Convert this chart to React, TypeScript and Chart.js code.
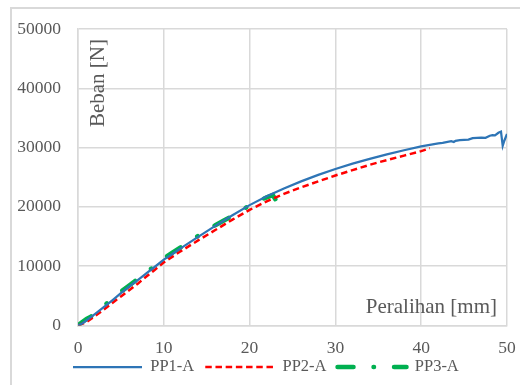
import React, { useEffect, useRef } from "react";
import { Chart, registerables } from "chart.js";

Chart.register(...registerables);

// PP1-A (blue, solid)
const pp1X = [0, 0.5, 1, 2, 3, 4, 5, 6, 7, 8, 9, 10, 11, 12, 14, 16, 18, 20, 22, 24, 26, 28, 30, 32, 34, 36, 38, 40, 41.5, 42, 42.5, 43.5, 43.8, 44, 44.5, 45.5, 46, 46.5, 47, 47.5, 48, 48.3, 48.6, 49, 49.3, 49.5, 49.7, 50];
const pp1Y = [0, 350, 850, 1950, 3100, 4250, 5450, 6600, 7700, 8850, 9950, 11100, 12050, 13050, 14950, 16800, 18600, 20300, 21800, 23100, 24300, 25400, 26400, 27300, 28100, 28850, 29550, 30200, 30600, 30700, 30800, 31100, 30950, 31150, 31250, 31350, 31600, 31650, 31700, 31650, 32000, 32100, 32050, 32500, 32700, 30300, 31200, 32300];

// PP2-A (red, dashed)
const pp2X = [0, 1, 2, 3, 4, 5, 6, 7, 8, 9, 10, 12, 14, 16, 18, 20, 22, 24, 26, 28, 30, 32, 34, 36, 38, 40, 41];
const pp2Y = [0, 600, 1600, 2650, 3800, 4900, 6000, 7100, 8300, 9450, 10650, 12550, 14350, 16100, 17850, 19500, 20950, 22200, 23300, 24300, 25300, 26200, 27100, 27900, 28650, 29400, 29900];

// PP3-A (green, dash-dot)
const pp3X = [0, 0.5, 1, 1.5, 2, 3, 4, 5, 6, 7, 8, 9, 10, 11, 12, 13, 14, 15, 16, 17, 18, 19, 20, 21, 22, 22.7, 23];
const pp3Y = [0, 600, 1100, 1500, 2100, 3300, 4500, 5700, 6800, 7900, 9000, 10100, 11300, 12300, 13200, 14200, 15100, 16100, 16900, 17700, 18500, 19300, 20300, 21000, 21600, 22000, 21300];

const seriesNames = ["PP1-A", "PP2-A", "PP3-A"];
const xTicks = [0, 10, 20, 30, 40, 50];
const yTicks = [0, 10000, 20000, 30000, 40000, 50000];
const xTitle = "Peralihan [mm]";
const yTitle = "Beban [N]";

const TEXT = "#595959";
const GRID = "#d9d9d9";
const FONT = "'Liberation Serif', 'Times New Roman', serif";
const LEGEND_PAD = 11;
const LEGEND_FONT = 16.5;

const toPts = (xs: number[], ys: number[]) => xs.map((x, i) => ({ x, y: ys[i] }));

const decorPlugin = {
  id: "decor",
  afterLayout(chart: any) {
    const lg = chart.legend;
    if (!lg) return;
    const dy = 367 - (lg.top + LEGEND_PAD + LEGEND_FONT / 2);
    lg.top += dy;
    lg.bottom += dy;
    const dx = 73 - LEGEND_PAD - lg.left;
    lg.left += dx;
    lg.right += dx;
  },
  beforeDraw(chart: any) {
    const ctx = chart.ctx;
    ctx.save();
    ctx.strokeStyle = GRID;
    ctx.lineWidth = 2;
    ctx.strokeRect(11, 8, 600, 600);
    ctx.restore();
  },
  afterDraw(chart: any) {
    const { ctx, chartArea } = chart;
    ctx.save();
    ctx.fillStyle = TEXT;
    ctx.font = `21px ${FONT}`;
    ctx.textAlign = "right";
    ctx.textBaseline = "middle";
    ctx.fillText(xTitle, chartArea.right - 10, chartArea.bottom - 18);
    ctx.translate(chartArea.left + 20, chartArea.top + 10);
    ctx.rotate(-Math.PI / 2);
    ctx.fillText(yTitle, 0, 0);
    ctx.restore();
  },
};

export default function App() {
  const ref = useRef<HTMLCanvasElement>(null);
  useEffect(() => {
    if (!ref.current) return;
    const chart = new Chart(ref.current, {
      type: "line",
      data: {
        datasets: [
          {
            label: seriesNames[0],
            data: toPts(pp1X, pp1Y),
            borderColor: "#2E75B6",
            backgroundColor: "#2E75B6",
            borderWidth: 2.25,
            pointRadius: 0,
            tension: 0,
            borderCapStyle: "butt",
          },
          {
            label: seriesNames[1],
            data: toPts(pp2X, pp2Y),
            borderColor: "#FF0000",
            backgroundColor: "#FF0000",
            borderWidth: 2.5,
            borderDash: [6.5, 3.7],
            pointRadius: 0,
            tension: 0,
            borderCapStyle: "butt",
          },
          {
            label: seriesNames[2],
            data: toPts(pp3X, pp3Y),
            borderColor: "#00B050",
            backgroundColor: "#00B050",
            borderWidth: 4.5,
            borderDash: [16, 20, 0.5, 20],
            borderCapStyle: "round",
            pointRadius: 0,
            tension: 0,
          },
        ],
      },
      options: {
        animation: false,
        responsive: false,
        events: [],
        layout: { padding: { left: 0, top: 29, right: 13, bottom: -11 } },
        plugins: {
          tooltip: { enabled: false },
          legend: {
            position: "bottom",
            align: "start",
            labels: {
              usePointStyle: true,
              pointStyle: "line",
              pointStyleWidth: 69,
              padding: LEGEND_PAD,
              color: TEXT,
              font: { family: FONT, size: LEGEND_FONT },
              generateLabels: (c: any) =>
                c.data.datasets.map((ds: any, i: number) => ({
                  text: ds.label,
                  strokeStyle: ds.borderColor,
                  fillStyle: ds.borderColor,
                  lineWidth: ds.borderWidth,
                  lineDash: ds.borderDash || [],
                  lineCap: ds.borderCapStyle,
                  pointStyle: "line",
                  datasetIndex: i,
                  hidden: false,
                  fontColor: TEXT,
                })),
            },
          },
        },
        scales: {
          x: {
            type: "linear",
            min: xTicks[0],
            max: xTicks[xTicks.length - 1],
            afterFit: (s: any) => {
              s.height = 33;
              s.paddingLeft = 0;
              s.paddingRight = 0;
            },
            afterBuildTicks: (s: any) => {
              s.ticks = xTicks.map((v) => ({ value: v }));
            },
            ticks: {
              padding: 12,
              color: TEXT,
              font: { family: FONT, size: 17.5 },
              maxRotation: 0,
              autoSkip: false,
              callback: (v: any) => String(v),
            },
            grid: { color: GRID, lineWidth: 1.5, drawTicks: false },
            border: { color: GRID, width: 1.5 },
          },
          y: {
            type: "linear",
            min: yTicks[0],
            max: yTicks[yTicks.length - 1],
            afterFit: (s: any) => {
              s.width = 78;
              s.paddingTop = 0;
              s.paddingBottom = 0;
            },
            afterBuildTicks: (s: any) => {
              s.ticks = yTicks.map((v) => ({ value: v }));
            },
            ticks: {
              padding: 17,
              color: TEXT,
              font: { family: FONT, size: 17.5 },
              autoSkip: false,
              callback: (v: any) => String(v),
            },
            grid: { color: GRID, lineWidth: 1.5, drawTicks: false },
            border: { color: GRID, width: 1.5 },
          },
        },
      } as any,
      plugins: [decorPlugin],
    });
    return () => chart.destroy();
  }, []);
  return (
    <div style={{ position: "absolute", left: 0, top: 0, width: 520, height: 385 }}>
      <canvas ref={ref} width={520} height={385} />
    </div>
  );
}
